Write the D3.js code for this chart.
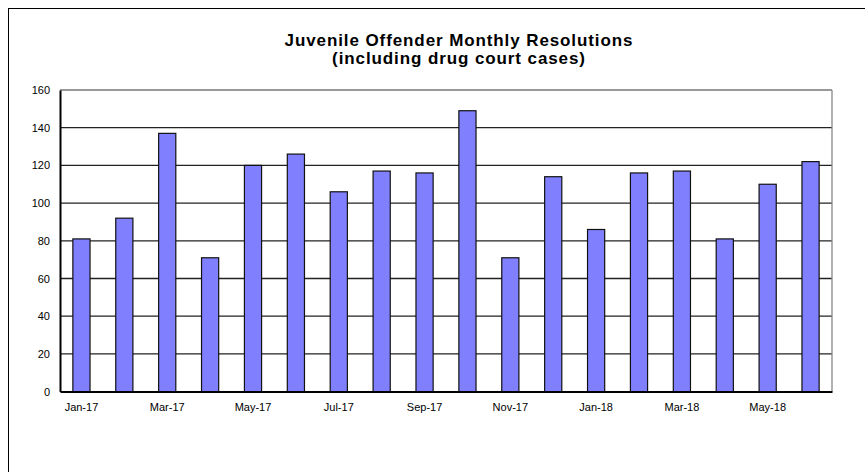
<!DOCTYPE html>
<html>
<head>
<meta charset="utf-8">
<script src="https://cdn.jsdelivr.net/npm/d3@7"></script>
<style>
  body { margin: 0; background: #fff; }
  text { font-family: "Liberation Sans", Arial, sans-serif; }
</style>
</head>
<body>
<div id="container"></div>
<script>
// datos
var meses = ["Jan-17", "Feb-17", "Mar-17", "Apr-17", "May-17", "Jun-17", "Jul-17", "Aug-17", "Sep-17",
             "Oct-17", "Nov-17", "Dec-17", "Jan-18", "Feb-18", "Mar-18", "Apr-18", "May-18", "Jun-18"];
var resoluciones = [81, 92, 137, 71, 120, 126, 106, 117, 116, 149, 71, 114, 86, 116, 117, 81, 110, 122];
var ticksY = [0, 20, 40, 60, 80, 100, 120, 140, 160];
var etiquetasX = ["Jan-17", "Mar-17", "May-17", "Jul-17", "Sep-17", "Nov-17", "Jan-18", "Mar-18", "May-18"];
var titulo = ["Juvenile Offender Monthly Resolutions", "(including drug court cases)"];

var svgWidth = 865, svgHeight = 472;
// limites del area del grafico
var plotLeft = 60, plotRight = 832, plotTop = 90, plotBottom = 391.6;

var svg = d3.select("#container")
    .append("svg")
    .attr("width", svgWidth)
    .attr("height", svgHeight);

// marco exterior
svg.append("rect")
    .attr("x", 8.5).attr("y", 8.5)
    .attr("width", 900).attr("height", 500)
    .attr("fill", "none")
    .attr("stroke", "#000")
    .attr("stroke-width", 1);

// escalas
var x = d3.scaleBand()
    .domain(meses)
    .range([plotLeft, plotRight])
    .paddingInner(0.6)
    .paddingOuter(0.3);

var y = d3.scaleLinear()
    .domain([0, 160])
    .range([plotBottom, plotTop]);

// titulo
svg.append("g").selectAll("text")
    .data(titulo)
    .enter().append("text")
    .attr("x", 459)
    .attr("y", function (d, i) { return 45.5 + i * 18; })
    .attr("text-anchor", "middle")
    .attr("font-size", "17px")
    .attr("letter-spacing", "0.9px")
    .attr("font-weight", "bold")
    .text(function (d) { return d; });

// lineas de grilla
svg.append("g").selectAll("line")
    .data(ticksY.filter(function (d) { return d > 0; }))
    .enter().append("line")
    .attr("x1", plotLeft).attr("x2", plotRight)
    .attr("y1", function (d) { return y(d); })
    .attr("y2", function (d) { return y(d); })
    .attr("stroke", function (d) { return d === 160 ? "#777" : "#222"; })
    .attr("stroke-width", 1.3);

// borde derecho del area
svg.append("line")
    .attr("x1", plotRight).attr("x2", plotRight)
    .attr("y1", plotTop).attr("y2", plotBottom)
    .attr("stroke", "#888")
    .attr("stroke-width", 1.3);

// barras
svg.append("g").selectAll("rect")
    .data(resoluciones)
    .enter().append("rect")
    .attr("x", function (d, i) { return x(meses[i]); })
    .attr("y", function (d) { return y(d); })
    .attr("width", x.bandwidth())
    .attr("height", function (d) { return y(0) - y(d); })
    .attr("fill", "#8080ff")
    .attr("stroke", "#111")
    .attr("stroke-width", 1.2);

// eje y
var yGroup = svg.append("g")
    .attr("transform", "translate(" + plotLeft + ",0)")
    .call(d3.axisLeft(y).tickValues(ticksY).tickSize(0).tickPadding(10));
yGroup.select(".domain").attr("stroke", "#000").attr("stroke-width", 2);
yGroup.selectAll("text").attr("font-size", "11px").attr("fill", "#000")
    .attr("font-family", "'Liberation Sans', Arial, sans-serif");

// eje x
var xGroup = svg.append("g")
    .attr("transform", "translate(0," + plotBottom + ")")
    .call(d3.axisBottom(x).tickValues(etiquetasX).tickSize(0).tickPadding(12));
xGroup.select(".domain").attr("stroke", "#000").attr("stroke-width", 2);
xGroup.selectAll("text").attr("font-size", "11px").attr("fill", "#000")
    .attr("font-family", "'Liberation Sans', Arial, sans-serif");
</script>
</body>
</html>
